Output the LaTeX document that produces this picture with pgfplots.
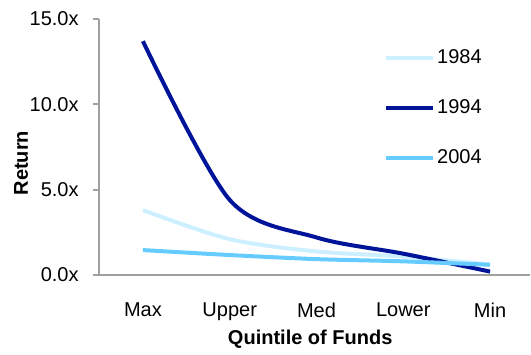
\documentclass[border=0pt]{standalone}
\usepackage{fontspec}
\setmainfont{Liberation Sans}
\usepackage{pgfplots}
\pgfplotsset{compat=1.18}
\definecolor{c84}{RGB}{204,240,255}
\definecolor{c94}{RGB}{0,20,153}
\definecolor{c04}{RGB}{102,204,255}
\definecolor{axgray}{RGB}{160,160,160}
\begin{document}
\begin{tikzpicture}
\begin{axis}[
  at={(0pt,0pt)}, anchor=south west,
  scale only axis,
  width=215.5pt, height=128pt,
  clip=false,
  xmin=-0.506, xmax=4.46,
  ymin=0, ymax=15,
  axis x line=bottom, axis y line=left,
  axis line style={-, axgray, line width=1pt},
  xtick={0,1,2,3,4},
  xticklabels={Max,Upper,Med,Lower,Min},
  ytick={0,5,10,15},
  yticklabels={0.0x,5.0x,10.0x,15.0x},
  tick align=outside,
  major tick length=3pt,
  x tick style={draw=none},
  y tick style={axgray, line width=1pt},
  font=\fontsize{10}{12}\selectfont,
  xticklabel style={font=\fontsize{10}{12}\selectfont, yshift=-7.5pt},
  yticklabel style={font=\fontsize{10}{12}\selectfont, anchor=east, inner xsep=0pt, xshift=-7pt},
  xlabel={\textbf{Quintile of Funds}},
  ylabel={\textbf{Return}},
  label style={font=\fontsize{10}{12}\selectfont},
  xlabel style={at={(axis description cs:0.49,-0.25)}, anchor=center},
  ylabel style={at={(axis description cs:-0.181,0.4375)}, anchor=center},
  legend style={draw=none, fill=none, at={(axis description cs:0.67,0.86)}, anchor=north west,
    font=\fontsize{10}{12}\selectfont, row sep=12.5pt, nodes={inner xsep=1pt}, yshift=7pt, xshift=-5pt},
  legend cell align=left,
  legend image code/.code={\draw[#1] (0pt,0pt) -- (23.5pt,0pt);},
]
\addplot[c84, line width=2pt, smooth] coordinates {(0,3.8) (1,2.1) (2,1.38) (3,1.08) (4,0.62)};
\addlegendentry{1984}
\addplot[c94, line width=2pt, smooth] coordinates {(0,13.7) (1,4.4) (2,2.2) (3,1.25) (4,0.2)};
\addlegendentry{1994}
\addplot[c04, line width=2pt, smooth] coordinates {(0,1.46) (1,1.17) (2,0.93) (3,0.8) (4,0.6)};
\addlegendentry{2004}
\end{axis}
\path[use as bounding box] (-49.5pt,-39.5pt) rectangle (216pt,137.5pt);
\end{tikzpicture}
\end{document}
